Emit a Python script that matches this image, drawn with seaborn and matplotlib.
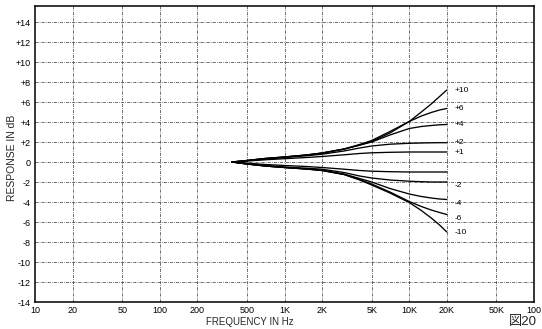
import matplotlib
matplotlib.use("Agg")
import matplotlib.pyplot as plt
import seaborn as sns
import pandas as pd
import numpy as np

# ---- data ----
freqs = [380, 500, 700, 1000, 1500, 2000, 3000, 4000, 5000, 7000, 10000, 12500, 15000, 17500, 20000]

curve_p10 = [0, 0.15, 0.35, 0.50, 0.70, 0.90, 1.30, 1.70, 2.05, 2.90, 4.05, 5.00, 5.80, 6.55, 7.20]
curve_p6  = [0, 0.15, 0.35, 0.50, 0.70, 0.90, 1.30, 1.75, 2.15, 3.05, 4.05, 4.60, 4.95, 5.20, 5.35]
curve_p4  = [0, 0.15, 0.35, 0.50, 0.70, 0.88, 1.28, 1.68, 2.00, 2.70, 3.35, 3.55, 3.65, 3.72, 3.75]
curve_p2  = [0, 0.12, 0.30, 0.45, 0.62, 0.78, 1.10, 1.40, 1.60, 1.78, 1.87, 1.90, 1.92, 1.93, 1.93]
curve_p1  = [0, 0.10, 0.22, 0.33, 0.45, 0.55, 0.72, 0.85, 0.92, 0.97, 1.00, 1.00, 1.00, 1.00, 1.00]
curve_m1  = [0, -0.12, -0.25, -0.35, -0.45, -0.55, -0.72, -0.85, -0.92, -0.97, -1.00, -1.00, -1.00, -1.00, -1.00]
curve_m2  = [0, -0.18, -0.35, -0.50, -0.62, -0.72, -1.05, -1.40, -1.60, -1.80, -1.92, -1.97, -2.00, -2.00, -2.00]
curve_m4  = [0, -0.20, -0.40, -0.55, -0.70, -0.82, -1.20, -1.65, -2.00, -2.65, -3.20, -3.45, -3.60, -3.70, -3.75]
curve_m6  = [0, -0.20, -0.40, -0.55, -0.70, -0.85, -1.25, -1.75, -2.20, -3.00, -3.95, -4.45, -4.80, -5.05, -5.25]
curve_m10 = [0, -0.20, -0.40, -0.55, -0.70, -0.85, -1.25, -1.80, -2.30, -3.10, -4.05, -4.85, -5.60, -6.30, -7.00]

curve_names = ["+10", "+6", "+4", "+2", "+1", "-1", "-2", "-4", "-6", "-10"]
curve_values = [curve_p10, curve_p6, curve_p4, curve_p2, curve_p1,
                curve_m1, curve_m2, curve_m4, curve_m6, curve_m10]
curve_labels = ["+10", "+6", "+4", "+2", "+1", "", "-2", "-4", "-6", "-10"]
label_offsets = [0, 0.05, 0.0, 0.05, -0.05, 0, -0.3, -0.4, -0.35, -0.1]

y_ticks = list(range(-14, 15, 2))
y_ticklabels = ["+%d" % v if v > 0 else ("%d" % v if v < 0 else "0") for v in y_ticks]
x_ticks = [10, 20, 50, 100, 200, 500, 1000, 2000, 5000, 10000, 20000, 50000, 100000]
x_ticklabels = ["10", "20", "50", "100", "200", "500", "1K", "2K", "5K", "10K", "20K", "50K", "100"]

rows = []
for name, vals in zip(curve_names, curve_values):
    for f, v in zip(freqs, vals):
        rows.append({"curve": name, "freq": f, "db": v})
df = pd.DataFrame(rows)

sns.set_theme(style="white")
plt.rcParams["font.family"] = ["Liberation Sans", "Noto Sans CJK JP", "DejaVu Sans"]

fig = plt.figure(figsize=(5.42, 3.29), dpi=100)
ax = fig.add_axes([35 / 542, 27 / 329, (534 - 35) / 542, (323 - 27) / 329])

ax.set_xscale("log")
ax.set_xlim(10, 100000)
ax.set_ylim(-14, 15.6)

# grid
for v in y_ticks[1:]:
    ax.axhline(v, color="#444444", lw=0.55, ls=(0, (4, 1.5, 1, 1.5)), zorder=1)
for f in x_ticks[1:-1]:
    ax.axvline(f, color="#444444", lw=0.55, ls=(0, (4, 1.5, 1, 1.5)), zorder=1)

sns.lineplot(data=df, x="freq", y="db", units="curve", estimator=None,
             color="black", lw=0.95, sort=True, ax=ax, zorder=3)

for lab, vals, off in zip(curve_labels, curve_values, label_offsets):
    if lab:
        ax.text(23000, vals[-1] + off, lab, fontsize=6, ha="left", va="center", color="black")

ax.set_yticks(y_ticks)
ax.set_yticklabels(y_ticklabels)
ax.set_xticks(x_ticks)
ax.set_xticklabels(x_ticklabels)
ax.minorticks_off()
ax.tick_params(axis="both", length=0, labelsize=6.5, colors="black", pad=3)

for s in ax.spines.values():
    s.set_visible(True)
    s.set_color("black")
    s.set_linewidth(1.1)

ax.set_xlabel("")
ax.set_ylabel("")
fig.text(12 / 542, 1 - 158 / 329, "RESPONSE IN dB", rotation=90, ha="center", va="center", fontsize=7.5)
fig.text(250 / 542, 1 - 322 / 329, "FREQUENCY IN Hz", ha="center", va="center", fontsize=7)
fig.text(509 / 542, 1 / 329, "図20", ha="left", va="bottom", fontsize=9.5)

fig.savefig("out.png", dpi=100)
